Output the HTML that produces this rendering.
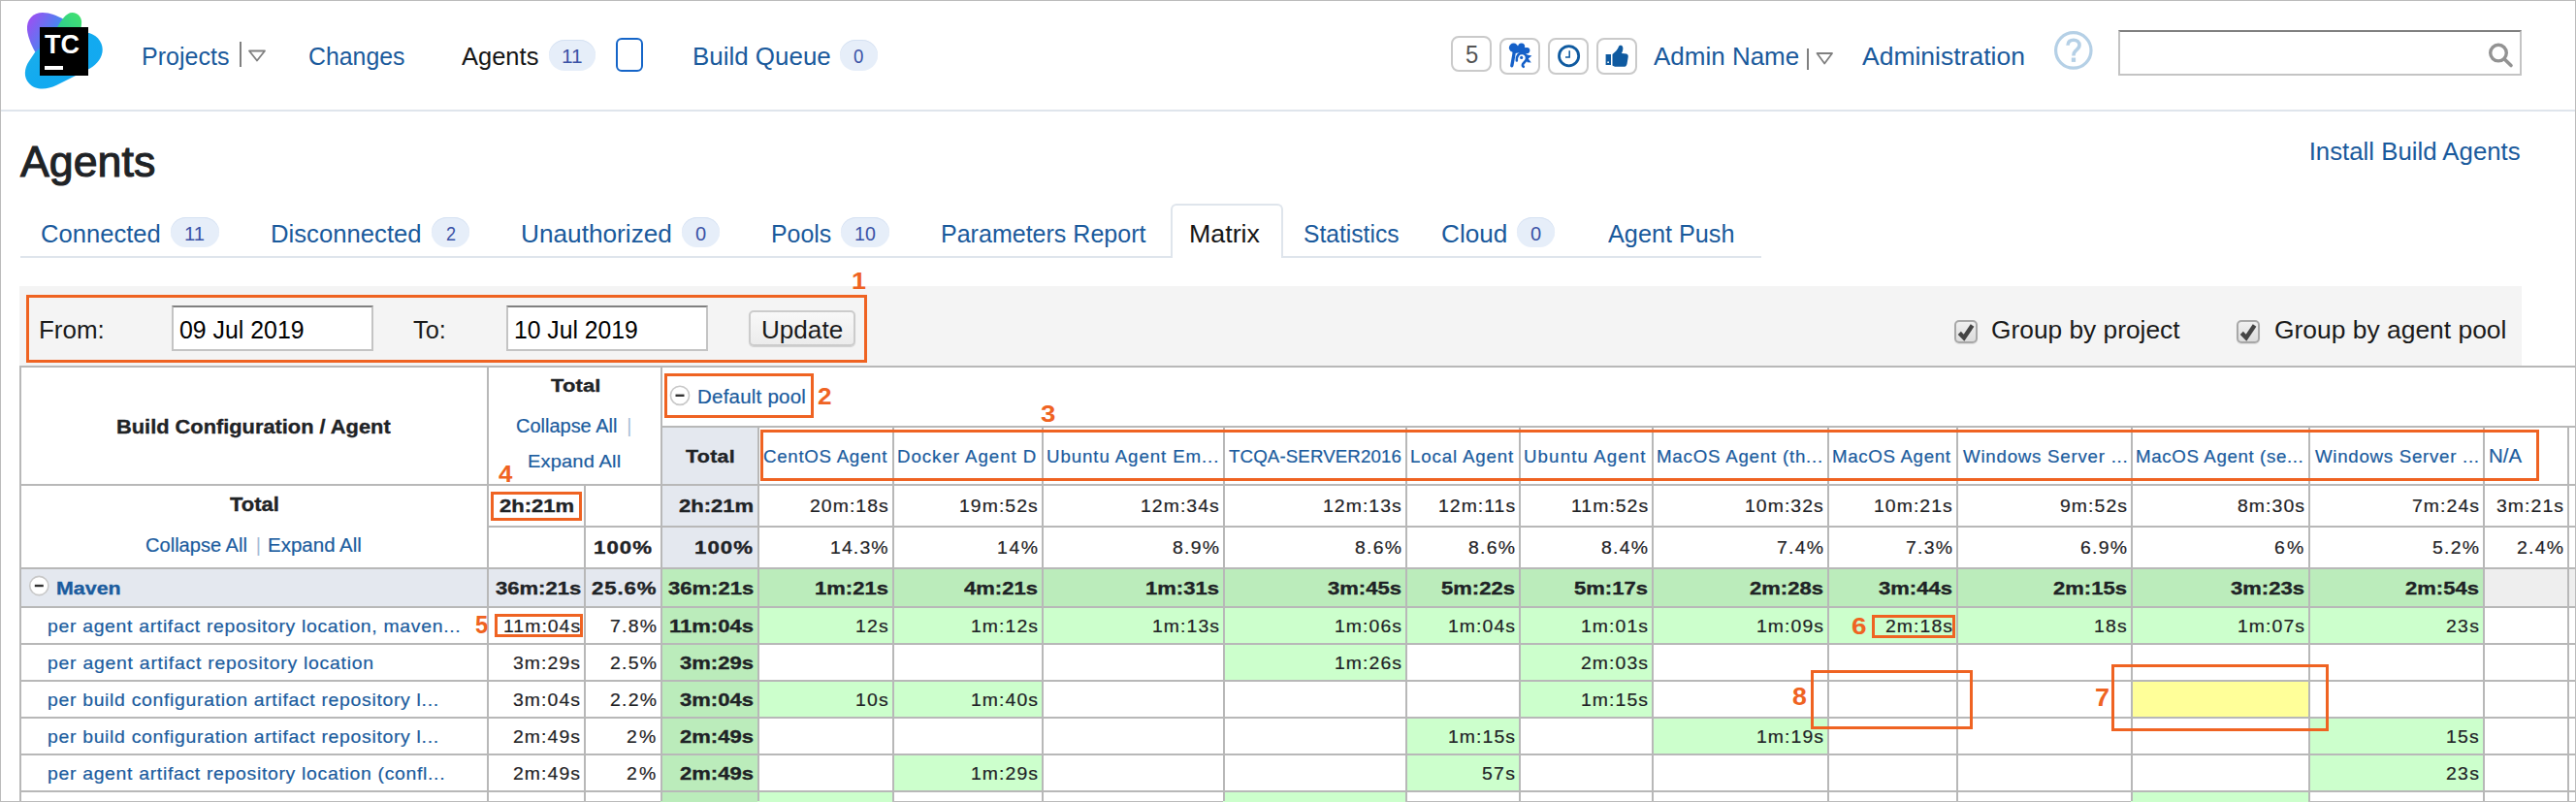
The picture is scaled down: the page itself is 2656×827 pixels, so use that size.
<!DOCTYPE html>
<html><head><meta charset="utf-8"><title>Agents</title>
<style>
html,body{margin:0;padding:0;background:#fff;}
body{width:2656px;height:827px;overflow:hidden;position:relative;font-family:"Liberation Sans",sans-serif;}
.b{position:absolute;}
.t{position:absolute;white-space:nowrap;transform-origin:0 0;font-family:"Liberation Sans",sans-serif;}
</style></head><body>
<div class=b style="left:0px;top:0px;width:2656px;height:1px;background:#bbbbbb"></div><div class=b style="left:0px;top:0px;width:1px;height:827px;background:#bbbbbb"></div><div class=b style="left:2655px;top:0px;width:1px;height:827px;background:#bbbbbb"></div><div class=b style="left:0px;top:826px;width:2656px;height:1px;background:#bbbbbb"></div><div class=b style="left:1px;top:113px;width:2654px;height:2px;background:#dfe5ec"></div><div class=b style="left:566px;top:41px;width:48px;height:32px;background:#e6eef9;border-radius:16px;box-shadow:inset 0 1px 0 #d5e1f2"></div><div class=b style="left:866px;top:41px;width:39px;height:32px;background:#e6eef9;border-radius:16px;box-shadow:inset 0 1px 0 #d5e1f2"></div><div class=b style="left:176px;top:224px;width:50px;height:31px;background:#e6eef9;border-radius:16px;box-shadow:inset 0 1px 0 #d5e1f2"></div><div class=b style="left:445px;top:224px;width:39px;height:31px;background:#e6eef9;border-radius:16px;box-shadow:inset 0 1px 0 #d5e1f2"></div><div class=b style="left:703px;top:224px;width:39px;height:31px;background:#e6eef9;border-radius:16px;box-shadow:inset 0 1px 0 #d5e1f2"></div><div class=b style="left:867px;top:224px;width:50px;height:31px;background:#e6eef9;border-radius:16px;box-shadow:inset 0 1px 0 #d5e1f2"></div><div class=b style="left:1564px;top:224px;width:39px;height:31px;background:#e6eef9;border-radius:16px;box-shadow:inset 0 1px 0 #d5e1f2"></div><div class=b style="left:635px;top:39px;width:28px;height:35px;border:2px solid #1565c8;border-radius:6px;box-sizing:border-box"></div><div class=b style="left:1496px;top:37px;width:42px;height:37px;border:2px solid #cacaca;border-radius:8px;box-sizing:border-box"></div><div class=b style="left:1546px;top:39px;width:42px;height:38px;border:2px solid #cacaca;border-radius:8px;box-sizing:border-box"></div><div class=b style="left:1596px;top:39px;width:42px;height:38px;border:2px solid #cacaca;border-radius:8px;box-sizing:border-box"></div><div class=b style="left:1646px;top:39px;width:42px;height:38px;border:2px solid #cacaca;border-radius:8px;box-sizing:border-box"></div><div class=b style="left:2184px;top:31px;width:416px;height:47px;background:#fff;border:2px solid #c4c4c4;border-top-color:#808080;box-sizing:border-box"></div><div class=b style="left:21px;top:264px;width:1187px;height:2px;background:#dfe5ec"></div><div class=b style="left:1322px;top:264px;width:494px;height:2px;background:#dfe5ec"></div><div class=b style="left:1207px;top:210px;width:116px;height:56px;border:2px solid #dfe5ec;border-bottom:none;border-radius:6px 6px 0 0;box-sizing:border-box;background:#fff"></div><div class=b style="left:20px;top:295px;width:2580px;height:82px;background:#f4f4f4"></div><div class=b style="left:177px;top:315px;width:208px;height:47px;background:#fff;border:2px solid #c4c4c4;border-top-color:#808080;box-sizing:border-box"></div><div class=b style="left:522px;top:315px;width:208px;height:47px;background:#fff;border:2px solid #c4c4c4;border-top-color:#808080;box-sizing:border-box"></div><div class=b style="left:772px;top:320px;width:110px;height:37px;background:linear-gradient(#f8f8f8,#ececec);border:2px solid #cccccc;border-radius:5px;box-sizing:border-box;box-shadow:0 1px 1px rgba(0,0,0,0.15)"></div><div class=b style="left:2015px;top:330px;width:24px;height:24px;background:linear-gradient(#f0f0f0,#dcdcdc);border:2px solid #a8a8a8;border-radius:5px;box-sizing:border-box;box-shadow:0 1px 1px rgba(0,0,0,0.1)"></div><div class=b style="left:2306px;top:330px;width:24px;height:24px;background:linear-gradient(#f0f0f0,#dcdcdc);border:2px solid #a8a8a8;border-radius:5px;box-sizing:border-box;box-shadow:0 1px 1px rgba(0,0,0,0.1)"></div><div class=b style="left:681px;top:439px;width:100px;height:146px;background:#e4e8ef"></div><div class=b style="left:20px;top:585px;width:661px;height:40px;background:#e4e8ef"></div><div class=b style="left:681px;top:585px;width:1879px;height:40px;background:#bbecbb"></div><div class=b style="left:2560px;top:585px;width:95px;height:40px;background:#eeeeee"></div><div class=b style="left:681px;top:625px;width:100px;height:202px;background:#bbecbb"></div><div class=b style="left:781px;top:625px;width:139px;height:38px;background:#ccffcc"></div><div class=b style="left:920px;top:625px;width:154px;height:38px;background:#ccffcc"></div><div class=b style="left:1074px;top:625px;width:187px;height:38px;background:#ccffcc"></div><div class=b style="left:1261px;top:625px;width:188px;height:38px;background:#ccffcc"></div><div class=b style="left:1449px;top:625px;width:117px;height:38px;background:#ccffcc"></div><div class=b style="left:1566px;top:625px;width:137px;height:38px;background:#ccffcc"></div><div class=b style="left:1703px;top:625px;width:181px;height:38px;background:#ccffcc"></div><div class=b style="left:1884px;top:625px;width:133px;height:38px;background:#ccffcc"></div><div class=b style="left:2017px;top:625px;width:180px;height:38px;background:#ccffcc"></div><div class=b style="left:2197px;top:625px;width:183px;height:38px;background:#ccffcc"></div><div class=b style="left:2380px;top:625px;width:180px;height:38px;background:#ccffcc"></div><div class=b style="left:1261px;top:663px;width:188px;height:38px;background:#ccffcc"></div><div class=b style="left:1566px;top:663px;width:137px;height:38px;background:#ccffcc"></div><div class=b style="left:781px;top:701px;width:139px;height:38px;background:#ccffcc"></div><div class=b style="left:920px;top:701px;width:154px;height:38px;background:#ccffcc"></div><div class=b style="left:1566px;top:701px;width:137px;height:38px;background:#ccffcc"></div><div class=b style="left:1449px;top:739px;width:117px;height:38px;background:#ccffcc"></div><div class=b style="left:1703px;top:739px;width:181px;height:38px;background:#ccffcc"></div><div class=b style="left:2380px;top:739px;width:180px;height:38px;background:#ccffcc"></div><div class=b style="left:920px;top:777px;width:154px;height:38px;background:#ccffcc"></div><div class=b style="left:1449px;top:777px;width:117px;height:38px;background:#ccffcc"></div><div class=b style="left:2380px;top:777px;width:180px;height:38px;background:#ccffcc"></div><div class=b style="left:2197px;top:701px;width:183px;height:38px;background:#ffff99"></div><div class=b style="left:781px;top:815px;width:139px;height:12px;background:#ccffcc"></div><div class=b style="left:1261px;top:815px;width:188px;height:12px;background:#ccffcc"></div><div class=b style="left:2197px;top:815px;width:183px;height:12px;background:#ccffcc"></div><div class=b style="left:20px;top:377px;width:2635px;height:2px;background:#b8b8b8"></div><div class=b style="left:681px;top:439px;width:1974px;height:2px;background:#b8b8b8"></div><div class=b style="left:20px;top:499px;width:2635px;height:2px;background:#b8b8b8"></div><div class=b style="left:502px;top:542px;width:2153px;height:2px;background:#b8b8b8"></div><div class=b style="left:20px;top:585px;width:2635px;height:2px;background:#b8b8b8"></div><div class=b style="left:20px;top:625px;width:2635px;height:2px;background:#b8b8b8"></div><div class=b style="left:20px;top:663px;width:2635px;height:2px;background:#b8b8b8"></div><div class=b style="left:20px;top:701px;width:2635px;height:2px;background:#b8b8b8"></div><div class=b style="left:20px;top:739px;width:2635px;height:2px;background:#b8b8b8"></div><div class=b style="left:20px;top:777px;width:2635px;height:2px;background:#b8b8b8"></div><div class=b style="left:20px;top:815px;width:2635px;height:2px;background:#b8b8b8"></div><div class=b style="left:20px;top:377px;width:2px;height:449px;background:#b8b8b8"></div><div class=b style="left:502px;top:377px;width:2px;height:449px;background:#b8b8b8"></div><div class=b style="left:602px;top:499px;width:2px;height:327px;background:#b8b8b8"></div><div class=b style="left:681px;top:377px;width:2px;height:449px;background:#b8b8b8"></div><div class=b style="left:781px;top:439px;width:2px;height:387px;background:#b8b8b8"></div><div class=b style="left:920px;top:439px;width:2px;height:387px;background:#b8b8b8"></div><div class=b style="left:1074px;top:439px;width:2px;height:387px;background:#b8b8b8"></div><div class=b style="left:1261px;top:439px;width:2px;height:387px;background:#b8b8b8"></div><div class=b style="left:1449px;top:439px;width:2px;height:387px;background:#b8b8b8"></div><div class=b style="left:1566px;top:439px;width:2px;height:387px;background:#b8b8b8"></div><div class=b style="left:1703px;top:439px;width:2px;height:387px;background:#b8b8b8"></div><div class=b style="left:1884px;top:439px;width:2px;height:387px;background:#b8b8b8"></div><div class=b style="left:2017px;top:439px;width:2px;height:387px;background:#b8b8b8"></div><div class=b style="left:2197px;top:439px;width:2px;height:387px;background:#b8b8b8"></div><div class=b style="left:2380px;top:439px;width:2px;height:387px;background:#b8b8b8"></div><div class=b style="left:2560px;top:439px;width:2px;height:387px;background:#b8b8b8"></div><div class=b style="left:2647px;top:439px;width:2px;height:387px;background:#b8b8b8"></div><div class=b style="left:27px;top:304px;width:867px;height:70px;border:3px solid #ef6322;box-sizing:border-box"></div><div class=b style="left:685px;top:385px;width:154px;height:46px;border:3px solid #ef6322;box-sizing:border-box"></div><div class=b style="left:784px;top:443px;width:1834px;height:53px;border:3px solid #ef6322;box-sizing:border-box"></div><div class=b style="left:506px;top:507px;width:94px;height:30px;border:3px solid #ef6322;box-sizing:border-box"></div><div class=b style="left:510px;top:633px;width:91px;height:24px;border:3px solid #ef6322;box-sizing:border-box"></div><div class=b style="left:1930px;top:634px;width:86px;height:24px;border:3px solid #ef6322;box-sizing:border-box"></div><div class=b style="left:2177px;top:685px;width:224px;height:69px;border:3px solid #ef6322;box-sizing:border-box"></div><div class=b style="left:1867px;top:691px;width:167px;height:61px;border:3px solid #ef6322;box-sizing:border-box"></div>

<svg class=b style="left:0;top:0" width="2656" height="827" viewBox="0 0 2656 827">
 <defs>
  <linearGradient id="g1" x1="0" y1="0.2" x2="1" y2="0.8"><stop offset="0" stop-color="#9d4ff2"/><stop offset="0.7" stop-color="#3b8ef0"/></linearGradient>
  <linearGradient id="g3" x1="0" y1="0" x2="1" y2="1"><stop offset="0" stop-color="#1fb0e8"/><stop offset="0.5" stop-color="#12aaf0"/><stop offset="1" stop-color="#14a8f0"/></linearGradient>
  <linearGradient id="g2" x1="1" y1="0" x2="0" y2="1"><stop offset="0" stop-color="#45e36c"/><stop offset="1" stop-color="#22c3a0"/></linearGradient>
 </defs>
 <!-- logo blobs -->
 <path d="M28 31 C 27 20, 34 13, 44 13 C 52 13, 58 16, 66 20 L 70 36 L 37 55 C 33 48, 29 39, 28 31 Z" fill="url(#g1)"/>
 <path d="M 36 54 L 62 34 L 92 34 C 102 37, 107 46, 105.5 54 C 104 62, 98 68, 90 72 L 58 88 C 48 93, 36 93, 30 86 C 24 80, 25 70, 30 63 Z" fill="url(#g3)"/>
 <path d="M58 30 C 63 21, 68 13, 74.5 13 C 80.5 13, 85 18, 84 25 L 82 40 L 56 46 Z" fill="url(#g2)"/>
 <rect x="41" y="28" width="50" height="50" fill="#000"/>
 <text x="46" y="55" font-family="Liberation Sans" font-weight="bold" font-size="28" fill="#fff" textLength="36" lengthAdjust="spacingAndGlyphs">TC</text>
 <rect x="46" y="68" width="19" height="4" fill="#fff"/>
 <!-- projects separator and triangle -->
 <rect x="247" y="43" width="2" height="26" fill="#808080"/>
 <path d="M257 52.5 L273 52.5 L265 62.5 Z" fill="none" stroke="#808080" stroke-width="1.8" stroke-linejoin="round"/>
 <rect x="1863" y="50" width="2" height="22" fill="#808080"/>
 <path d="M1873.5 55 L1889 55 L1881.2 65.5 Z" fill="none" stroke="#808080" stroke-width="1.8" stroke-linejoin="round"/>
 <!-- rooster -->
 <g fill="#1560c8">
  <circle cx="1560.6" cy="49.3" r="4.7"/><circle cx="1568.7" cy="48.1" r="3.5"/><circle cx="1574.3" cy="52.1" r="3.1"/>
  <path d="M1557 51 L1566 47 L1575 50 L1576 54.5 L1571 55.5 L1566 54.5 L1562 55 Z"/>
  <path d="M1573.6 56.2 L1579.4 57.6 L1575.8 60.6 L1578.8 64.6 L1574.6 64.2 L1573 60 Z"/>
  <circle cx="1568.7" cy="59.4" r="1.6"/>
 </g>
 <path d="M1561.3 53 C 1560.8 58, 1559.6 63, 1558.8 67.8" stroke="#1560c8" stroke-width="3.3" fill="none" stroke-linecap="round"/>
 <path d="M1563.8 62.5 C 1563.4 57.5, 1566 55, 1569.2 55 C 1572.6 55, 1574.4 57.6, 1574 60.4 C 1573.6 63.2, 1571.2 64.2, 1570.2 66 C 1569.6 67.2, 1570 68.2, 1570.8 68.8" stroke="#1560c8" stroke-width="2.6" fill="none" stroke-linecap="round"/>
 <!-- clock -->
 <circle cx="1617.6" cy="57.7" r="10.1" fill="none" stroke="#0f5aa0" stroke-width="2.8"/>
 <path d="M1618.2 52.3 L1618.2 59 L1614 59" fill="none" stroke="#0f5aa0" stroke-width="1.5"/>
 <!-- thumbs up -->
 <g fill="#0f5aa0">
  <rect x="1655.6" y="56" width="5.4" height="11"/>
  <path d="M1662.5 56 C 1665 54, 1668 51, 1669 48 C 1669.5 46.5, 1672 46, 1673 48 C 1674 50, 1673 53, 1672 55 L 1677 55.5 C 1679 56, 1679 58, 1678.5 60 L 1677.5 66 C 1677 68, 1676 68.8, 1674 68.8 L 1666 68.8 C 1664.5 68.8, 1663.5 68, 1662.5 67.5 Z"/>
 </g>
 <circle cx="1658.1" cy="64.2" r="0.9" fill="#fff"/>
 <!-- help -->
 <circle cx="2137.8" cy="51.9" r="18.2" fill="none" stroke="#b5d0e6" stroke-width="3.2"/>
 <path d="M2132 46.8 C 2132 42.8, 2134.8 41.2, 2137.9 41.2 C 2141.3 41.2, 2144 43.4, 2144 46.6 C 2144 49.8, 2141.4 51.2, 2139.8 52.6 C 2138.4 53.9, 2137.9 55, 2137.9 57.6" fill="none" stroke="#b5d0e6" stroke-width="3.6"/>
 <rect x="2135.8" y="59.5" width="4.3" height="4.4" fill="#b5d0e6"/>
 <!-- search -->
 <circle cx="2576" cy="54.6" r="8.3" fill="none" stroke="#939393" stroke-width="3.4"/>
 <path d="M2582.5 61.3 L2589 67.5" stroke="#939393" stroke-width="3.6" stroke-linecap="round"/>
 <!-- checkmarks -->
 <path d="M2020.3 343.4 L2025 348.2 L2033.6 335.6" fill="none" stroke="#444" stroke-width="4.4"/>
 <path d="M2311.3 343.4 L2316 348.2 L2324.6 335.6" fill="none" stroke="#444" stroke-width="4.4"/>
 <!-- minus circles -->
 <circle cx="701" cy="407.8" r="9.6" fill="#fff" stroke="#c8c8c8" stroke-width="1.6"/>
 <rect x="696.5" y="406.6" width="9" height="2.4" fill="#333"/>
 <circle cx="40.3" cy="604" r="9.6" fill="#fff" stroke="#c8c8c8" stroke-width="1.6"/>
 <rect x="35.8" y="602.8" width="9" height="2.4" fill="#333"/>
</svg>

<span class=t style="left:145.94px;top:46px;font-size:25.94px;line-height:25.94px;color:#1a5a9c;transform:scaleX(0.9651);">Projects</span><span class=t style="left:317.84px;top:46px;font-size:25.94px;line-height:25.94px;color:#1a5a9c;transform:scaleX(0.9576);">Changes</span><span class=t style="left:476.00px;top:46px;font-size:25.94px;line-height:25.94px;color:#161616;transform:scaleX(0.9831);">Agents</span><span class=t style="left:579.42px;top:49px;font-size:19.71px;line-height:19.71px;color:#3a52a6;transform:scaleX(1.0556);">11</span><span class=t style="left:713.98px;top:46px;font-size:25.94px;line-height:25.94px;color:#1a5a9c;">Build Queue</span><span class=t style="left:879.84px;top:49px;font-size:19.71px;line-height:19.71px;color:#3a52a6;transform:scaleX(0.9474);">0</span><span class=t style="left:1510.87px;top:44px;font-size:25.51px;line-height:25.51px;color:#555555;transform:scaleX(0.9344);">5</span><span class=t style="left:1705.00px;top:45px;font-size:26.09px;line-height:26.09px;color:#1a5a9c;transform:scaleX(0.9966);">Admin Name</span><span class=t style="left:1920.00px;top:45px;font-size:26.38px;line-height:26.38px;color:#1a5a9c;transform:scaleX(1.0046);">Administration</span><span class=t style="left:20.70px;top:145px;font-size:44.35px;line-height:44.35px;color:#1f2326;-webkit-text-stroke:1.1px #1f2326;transform:scaleX(1.0089);">Agents</span><span class=t style="left:2380.69px;top:144px;font-size:25.80px;line-height:25.80px;color:#1a5a9c;">Install Build Agents</span><span class=t style="left:42.10px;top:228px;font-size:26.38px;line-height:26.38px;color:#1a5a9c;transform:scaleX(0.9699);">Connected</span><span class=t style="left:189.90px;top:231px;font-size:20.29px;line-height:20.29px;color:#3a52a6;">11</span><span class=t style="left:279.39px;top:228px;font-size:26.38px;line-height:26.38px;color:#1a5a9c;transform:scaleX(0.9739);">Disconnected</span><span class=t style="left:459.81px;top:231px;font-size:20.29px;line-height:20.29px;color:#3a52a6;transform:scaleX(0.8925);">2</span><span class=t style="left:537.46px;top:228px;font-size:26.38px;line-height:26.38px;color:#1a5a9c;transform:scaleX(0.9937);">Unauthorized</span><span class=t style="left:717.31px;top:231px;font-size:20.29px;line-height:20.29px;color:#3a52a6;transform:scaleX(0.9898);">0</span><span class=t style="left:795.25px;top:228px;font-size:26.38px;line-height:26.38px;color:#1a5a9c;transform:scaleX(0.9446);">Pools</span><span class=t style="left:881.45px;top:231px;font-size:20.29px;line-height:20.29px;color:#3a52a6;transform:scaleX(0.9663);">10</span><span class=t style="left:970.44px;top:228px;font-size:26.38px;line-height:26.38px;color:#1a5a9c;transform:scaleX(0.9491);">Parameters Report</span><span class=t style="left:1225.51px;top:228px;font-size:26.38px;line-height:26.38px;color:#161616;transform:scaleX(1.0152);">Matrix</span><span class=t style="left:1343.83px;top:228px;font-size:26.38px;line-height:26.38px;color:#1a5a9c;transform:scaleX(0.9338);">Statistics</span><span class=t style="left:1485.97px;top:228px;font-size:26.38px;line-height:26.38px;color:#1a5a9c;transform:scaleX(0.9910);">Cloud</span><span class=t style="left:1578.11px;top:231px;font-size:20.29px;line-height:20.29px;color:#3a52a6;transform:scaleX(0.9898);">0</span><span class=t style="left:1658.00px;top:228px;font-size:26.38px;line-height:26.38px;color:#1a5a9c;transform:scaleX(0.9571);">Agent Push</span><span class=t style="left:39.97px;top:328px;font-size:25.65px;line-height:25.65px;color:#1a1a1a;transform:scaleX(1.0119);">From:</span><span class=t style="left:184.92px;top:328px;font-size:25.65px;line-height:25.65px;color:#000000;transform:scaleX(0.9694);">09 Jul 2019</span><span class=t style="left:425.80px;top:328px;font-size:25.65px;line-height:25.65px;color:#1a1a1a;transform:scaleX(0.9873);">To:</span><span class=t style="left:530.46px;top:328px;font-size:25.65px;line-height:25.65px;color:#000000;transform:scaleX(0.9631);">10 Jul 2019</span><span class=t style="left:784.67px;top:328px;font-size:25.65px;line-height:25.65px;color:#1a1a1a;transform:scaleX(1.0178);">Update</span><span class=t style="left:2053.35px;top:328px;font-size:25.36px;line-height:25.36px;color:#1a1a1a;transform:scaleX(1.0379);">Group by project</span><span class=t style="left:2345.05px;top:328px;font-size:25.36px;line-height:25.36px;color:#1a1a1a;transform:scaleX(1.0419);">Group by agent pool</span><span class=t style="left:877.77px;top:278px;font-size:24.78px;line-height:24.78px;color:#ef6322;font-weight:bold;transform:scaleX(1.0862);">1</span><span class=t style="left:843.21px;top:398px;font-size:23.48px;line-height:23.48px;color:#ef6322;font-weight:bold;transform:scaleX(1.1140);">2</span><span class=t style="left:1073.12px;top:416px;font-size:23.62px;line-height:23.62px;color:#ef6322;font-weight:bold;transform:scaleX(1.1695);">3</span><span class=t style="left:513.67px;top:478px;font-size:23.62px;line-height:23.62px;color:#ef6322;font-weight:bold;transform:scaleX(1.0938);">4</span><span class=t style="left:489.73px;top:632px;font-size:25.80px;line-height:25.80px;color:#ef6322;font-weight:bold;transform:scaleX(0.9172);">5</span><span class=t style="left:1908.57px;top:634px;font-size:24.06px;line-height:24.06px;color:#ef6322;font-weight:bold;transform:scaleX(1.1610);">6</span><span class=t style="left:2159.85px;top:706px;font-size:26.52px;line-height:26.52px;color:#ef6322;font-weight:bold;transform:scaleX(1.0198);">7</span><span class=t style="left:1847.97px;top:705px;font-size:26.38px;line-height:26.38px;color:#ef6322;font-weight:bold;transform:scaleX(1.0085);">8</span><span class=t style="left:119.60px;top:430px;font-size:20.29px;line-height:20.29px;color:#1f2326;font-weight:bold;-webkit-text-stroke:0.35px #1f2326;transform:scaleX(1.0753);">Build Configuration / Agent</span><span class=t style="left:567.76px;top:389px;font-size:18.26px;line-height:18.26px;color:#1f2326;font-weight:bold;-webkit-text-stroke:0.35px #1f2326;transform:scaleX(1.2000);letter-spacing:0.136px;">Total</span><span class=t style="left:532.48px;top:430px;font-size:19.57px;line-height:19.57px;color:#1b5c9e;-webkit-text-stroke:0.2px #1b5c9e;transform:scaleX(1.0212);">Collapse All</span><span class=t style="left:646.30px;top:430px;font-size:19.57px;line-height:19.57px;color:#a8bdd6;">|</span><span class=t style="left:543.92px;top:466px;font-size:19.13px;line-height:19.13px;color:#1b5c9e;-webkit-text-stroke:0.2px #1b5c9e;transform:scaleX(1.0500);letter-spacing:0.144px;">Expand All</span><span class=t style="left:237.28px;top:510px;font-size:20.29px;line-height:20.29px;color:#1f2326;font-weight:bold;-webkit-text-stroke:0.35px #1f2326;transform:scaleX(1.0835);">Total</span><span class=t style="left:150.31px;top:552px;font-size:20.29px;line-height:20.29px;color:#1b5c9e;-webkit-text-stroke:0.2px #1b5c9e;transform:scaleX(0.9903);">Collapse All</span><span class=t style="left:263.85px;top:552px;font-size:20.29px;line-height:20.29px;color:#a8bdd6;">|</span><span class=t style="left:275.98px;top:552px;font-size:20.29px;line-height:20.29px;color:#1b5c9e;-webkit-text-stroke:0.2px #1b5c9e;transform:scaleX(1.0108);">Expand All</span><span class=t style="left:718.72px;top:400px;font-size:19.57px;line-height:19.57px;color:#1b5c9e;-webkit-text-stroke:0.2px #1b5c9e;transform:scaleX(1.0500);letter-spacing:0.195px;">Default pool</span><span class=t style="left:707.06px;top:463px;font-size:17.83px;line-height:17.83px;color:#1f2326;font-weight:bold;-webkit-text-stroke:0.35px #1f2326;transform:scaleX(1.2000);letter-spacing:0.258px;">Total</span><span class=t style="left:787.05px;top:463px;font-size:17.83px;line-height:17.83px;color:#1b5c9e;-webkit-text-stroke:0.2px #1b5c9e;transform:scaleX(1.0500);letter-spacing:0.668px;">CentOS Agent</span><span class=t style="left:925.13px;top:463px;font-size:17.83px;line-height:17.83px;color:#1b5c9e;-webkit-text-stroke:0.2px #1b5c9e;transform:scaleX(1.0500);letter-spacing:0.892px;">Docker Agent D</span><span class=t style="left:1078.84px;top:463px;font-size:17.83px;line-height:17.83px;color:#1b5c9e;-webkit-text-stroke:0.2px #1b5c9e;transform:scaleX(1.0500);letter-spacing:0.844px;">Ubuntu Agent Em...</span><span class=t style="left:1266.98px;top:463px;font-size:17.83px;line-height:17.83px;color:#1b5c9e;-webkit-text-stroke:0.2px #1b5c9e;transform:scaleX(1.0500);letter-spacing:0.094px;">TCQA-SERVER2016</span><span class=t style="left:1453.83px;top:463px;font-size:17.83px;line-height:17.83px;color:#1b5c9e;-webkit-text-stroke:0.2px #1b5c9e;transform:scaleX(1.0500);letter-spacing:0.788px;">Local Agent</span><span class=t style="left:1571.13px;top:463px;font-size:17.83px;line-height:17.83px;color:#1b5c9e;-webkit-text-stroke:0.2px #1b5c9e;transform:scaleX(1.0500);letter-spacing:1.044px;">Ubuntu Agent</span><span class=t style="left:1708.43px;top:463px;font-size:17.83px;line-height:17.83px;color:#1b5c9e;-webkit-text-stroke:0.2px #1b5c9e;transform:scaleX(1.0500);letter-spacing:0.731px;">MacOS Agent (th...</span><span class=t style="left:1889.03px;top:463px;font-size:17.83px;line-height:17.83px;color:#1b5c9e;-webkit-text-stroke:0.2px #1b5c9e;transform:scaleX(1.0500);letter-spacing:0.620px;">MacOS Agent</span><span class=t style="left:2023.60px;top:463px;font-size:17.83px;line-height:17.83px;color:#1b5c9e;-webkit-text-stroke:0.2px #1b5c9e;transform:scaleX(1.0500);letter-spacing:0.710px;">Windows Server ...</span><span class=t style="left:2202.13px;top:463px;font-size:17.83px;line-height:17.83px;color:#1b5c9e;-webkit-text-stroke:0.2px #1b5c9e;transform:scaleX(1.0500);letter-spacing:0.588px;">MacOS Agent (se...</span><span class=t style="left:2387.00px;top:463px;font-size:17.83px;line-height:17.83px;color:#1b5c9e;-webkit-text-stroke:0.2px #1b5c9e;transform:scaleX(1.0500);letter-spacing:0.671px;">Windows Server ...</span><span class=t style="left:2565.62px;top:461px;font-size:19.42px;line-height:19.42px;color:#1b5c9e;-webkit-text-stroke:0.2px #1b5c9e;transform:scaleX(1.0500);letter-spacing:0.112px;">N/A</span><span class=t style="left:58.33px;top:598px;font-size:18.70px;line-height:18.70px;color:#1b5c9e;font-weight:bold;-webkit-text-stroke:0.35px #1b5c9e;transform:scaleX(1.1457);">Maven</span><span class=t style="left:515.36px;top:513px;font-size:18.50px;line-height:18.50px;color:#1f2326;font-weight:bold;-webkit-text-stroke:0.35px #1f2326;transform:scaleX(1.1900);">2h:21m</span><span class=t style="left:699.56px;top:513px;font-size:18.50px;line-height:18.50px;color:#1f2326;font-weight:bold;-webkit-text-stroke:0.35px #1f2326;transform:scaleX(1.1900);">2h:21m</span><span class=t style="left:834.93px;top:513px;font-size:18.50px;line-height:18.50px;color:#1f2326;-webkit-text-stroke:0.2px #1f2326;transform:scaleX(1.0500);letter-spacing:0.992px;">20m:18s</span><span class=t style="left:988.98px;top:513px;font-size:18.50px;line-height:18.50px;color:#1f2326;-webkit-text-stroke:0.2px #1f2326;transform:scaleX(1.0500);letter-spacing:0.984px;">19m:52s</span><span class=t style="left:1175.98px;top:513px;font-size:18.50px;line-height:18.50px;color:#1f2326;-webkit-text-stroke:0.2px #1f2326;transform:scaleX(1.0500);letter-spacing:0.984px;">12m:34s</span><span class=t style="left:1363.98px;top:513px;font-size:18.50px;line-height:18.50px;color:#1f2326;-webkit-text-stroke:0.2px #1f2326;transform:scaleX(1.0500);letter-spacing:0.984px;">12m:13s</span><span class=t style="left:1482.54px;top:513px;font-size:18.50px;line-height:18.50px;color:#1f2326;-webkit-text-stroke:0.2px #1f2326;transform:scaleX(1.0500);letter-spacing:0.965px;">12m:11s</span><span class=t style="left:1619.54px;top:513px;font-size:18.50px;line-height:18.50px;color:#1f2326;-webkit-text-stroke:0.2px #1f2326;transform:scaleX(1.0500);letter-spacing:0.965px;">11m:52s</span><span class=t style="left:1798.98px;top:513px;font-size:18.50px;line-height:18.50px;color:#1f2326;-webkit-text-stroke:0.2px #1f2326;transform:scaleX(1.0500);letter-spacing:0.984px;">10m:32s</span><span class=t style="left:1931.98px;top:513px;font-size:18.50px;line-height:18.50px;color:#1f2326;-webkit-text-stroke:0.2px #1f2326;transform:scaleX(1.0500);letter-spacing:0.984px;">10m:21s</span><span class=t style="left:2123.65px;top:513px;font-size:18.50px;line-height:18.50px;color:#1f2326;-webkit-text-stroke:0.2px #1f2326;transform:scaleX(1.0500);letter-spacing:1.015px;">9m:52s</span><span class=t style="left:2306.65px;top:513px;font-size:18.50px;line-height:18.50px;color:#1f2326;-webkit-text-stroke:0.2px #1f2326;transform:scaleX(1.0500);letter-spacing:1.015px;">8m:30s</span><span class=t style="left:2486.66px;top:513px;font-size:18.50px;line-height:18.50px;color:#1f2326;-webkit-text-stroke:0.2px #1f2326;transform:scaleX(1.0500);letter-spacing:1.013px;">7m:24s</span><span class=t style="left:2573.64px;top:513px;font-size:18.50px;line-height:18.50px;color:#1f2326;-webkit-text-stroke:0.2px #1f2326;transform:scaleX(1.0500);letter-spacing:1.017px;">3m:21s</span><span class=t style="left:612.26px;top:556px;font-size:18.50px;line-height:18.50px;color:#1f2326;font-weight:bold;-webkit-text-stroke:0.35px #1f2326;transform:scaleX(1.2000);letter-spacing:0.890px;">100%</span><span class=t style="left:715.96px;top:556px;font-size:18.50px;line-height:18.50px;color:#1f2326;font-weight:bold;-webkit-text-stroke:0.35px #1f2326;transform:scaleX(1.2000);letter-spacing:0.890px;">100%</span><span class=t style="left:856.07px;top:556px;font-size:18.50px;line-height:18.50px;color:#1f2326;-webkit-text-stroke:0.2px #1f2326;transform:scaleX(1.0500);letter-spacing:1.080px;">14.3%</span><span class=t style="left:1027.66px;top:556px;font-size:18.50px;line-height:18.50px;color:#1f2326;-webkit-text-stroke:0.2px #1f2326;transform:scaleX(1.0500);letter-spacing:1.499px;">14%</span><span class=t style="left:1208.74px;top:556px;font-size:18.50px;line-height:18.50px;color:#1f2326;-webkit-text-stroke:0.2px #1f2326;transform:scaleX(1.0500);letter-spacing:1.163px;">8.9%</span><span class=t style="left:1396.74px;top:556px;font-size:18.50px;line-height:18.50px;color:#1f2326;-webkit-text-stroke:0.2px #1f2326;transform:scaleX(1.0500);letter-spacing:1.163px;">8.6%</span><span class=t style="left:1513.74px;top:556px;font-size:18.50px;line-height:18.50px;color:#1f2326;-webkit-text-stroke:0.2px #1f2326;transform:scaleX(1.0500);letter-spacing:1.163px;">8.6%</span><span class=t style="left:1650.74px;top:556px;font-size:18.50px;line-height:18.50px;color:#1f2326;-webkit-text-stroke:0.2px #1f2326;transform:scaleX(1.0500);letter-spacing:1.163px;">8.4%</span><span class=t style="left:1831.75px;top:556px;font-size:18.50px;line-height:18.50px;color:#1f2326;-webkit-text-stroke:0.2px #1f2326;transform:scaleX(1.0500);letter-spacing:1.161px;">7.4%</span><span class=t style="left:1964.75px;top:556px;font-size:18.50px;line-height:18.50px;color:#1f2326;-webkit-text-stroke:0.2px #1f2326;transform:scaleX(1.0500);letter-spacing:1.161px;">7.3%</span><span class=t style="left:2144.75px;top:556px;font-size:18.50px;line-height:18.50px;color:#1f2326;-webkit-text-stroke:0.2px #1f2326;transform:scaleX(1.0500);letter-spacing:1.161px;">6.9%</span><span class=t style="left:2345.34px;top:556px;font-size:18.50px;line-height:18.50px;color:#1f2326;-webkit-text-stroke:0.2px #1f2326;transform:scaleX(1.0500);letter-spacing:2.159px;">6%</span><span class=t style="left:2507.73px;top:556px;font-size:18.50px;line-height:18.50px;color:#1f2326;-webkit-text-stroke:0.2px #1f2326;transform:scaleX(1.0500);letter-spacing:1.166px;">5.2%</span><span class=t style="left:2594.75px;top:556px;font-size:18.50px;line-height:18.50px;color:#1f2326;-webkit-text-stroke:0.2px #1f2326;transform:scaleX(1.0500);letter-spacing:1.161px;">2.4%</span><span class=t style="left:510.60px;top:598px;font-size:18.50px;line-height:18.50px;color:#1f2326;font-weight:bold;-webkit-text-stroke:0.35px #1f2326;transform:scaleX(1.1900);">36m:21s</span><span class=t style="left:609.59px;top:598px;font-size:18.50px;line-height:18.50px;color:#1f2326;font-weight:bold;-webkit-text-stroke:0.35px #1f2326;transform:scaleX(1.2000);letter-spacing:0.750px;">25.6%</span><span class=t style="left:688.90px;top:598px;font-size:18.50px;line-height:18.50px;color:#1f2326;font-weight:bold;-webkit-text-stroke:0.35px #1f2326;transform:scaleX(1.1900);">36m:21s</span><span class=t style="left:839.94px;top:598px;font-size:18.50px;line-height:18.50px;color:#1f2326;font-weight:bold;-webkit-text-stroke:0.35px #1f2326;transform:scaleX(1.1900);">1m:21s</span><span class=t style="left:993.94px;top:598px;font-size:18.50px;line-height:18.50px;color:#1f2326;font-weight:bold;-webkit-text-stroke:0.35px #1f2326;transform:scaleX(1.1900);">4m:21s</span><span class=t style="left:1180.94px;top:598px;font-size:18.50px;line-height:18.50px;color:#1f2326;font-weight:bold;-webkit-text-stroke:0.35px #1f2326;transform:scaleX(1.1900);">1m:31s</span><span class=t style="left:1368.94px;top:598px;font-size:18.50px;line-height:18.50px;color:#1f2326;font-weight:bold;-webkit-text-stroke:0.35px #1f2326;transform:scaleX(1.1900);">3m:45s</span><span class=t style="left:1485.94px;top:598px;font-size:18.50px;line-height:18.50px;color:#1f2326;font-weight:bold;-webkit-text-stroke:0.35px #1f2326;transform:scaleX(1.1900);">5m:22s</span><span class=t style="left:1622.94px;top:598px;font-size:18.50px;line-height:18.50px;color:#1f2326;font-weight:bold;-webkit-text-stroke:0.35px #1f2326;transform:scaleX(1.1900);">5m:17s</span><span class=t style="left:1803.94px;top:598px;font-size:18.50px;line-height:18.50px;color:#1f2326;font-weight:bold;-webkit-text-stroke:0.35px #1f2326;transform:scaleX(1.1900);">2m:28s</span><span class=t style="left:1936.94px;top:598px;font-size:18.50px;line-height:18.50px;color:#1f2326;font-weight:bold;-webkit-text-stroke:0.35px #1f2326;transform:scaleX(1.1900);">3m:44s</span><span class=t style="left:2116.94px;top:598px;font-size:18.50px;line-height:18.50px;color:#1f2326;font-weight:bold;-webkit-text-stroke:0.35px #1f2326;transform:scaleX(1.1900);">2m:15s</span><span class=t style="left:2299.94px;top:598px;font-size:18.50px;line-height:18.50px;color:#1f2326;font-weight:bold;-webkit-text-stroke:0.35px #1f2326;transform:scaleX(1.1900);">3m:23s</span><span class=t style="left:2479.94px;top:598px;font-size:18.50px;line-height:18.50px;color:#1f2326;font-weight:bold;-webkit-text-stroke:0.35px #1f2326;transform:scaleX(1.1900);">2m:54s</span><span class=t style="left:49.24px;top:637px;font-size:18.50px;line-height:18.50px;color:#1b5c9e;-webkit-text-stroke:0.2px #1b5c9e;transform:scaleX(1.0500);letter-spacing:0.640px;">per agent artifact repository location, maven...</span><span class=t style="left:518.84px;top:637px;font-size:18.50px;line-height:18.50px;color:#1f2326;-webkit-text-stroke:0.2px #1f2326;transform:scaleX(1.0500);letter-spacing:0.965px;">11m:04s</span><span class=t style="left:628.55px;top:637px;font-size:18.50px;line-height:18.50px;color:#1f2326;-webkit-text-stroke:0.2px #1f2326;transform:scaleX(1.0500);letter-spacing:1.161px;">7.8%</span><span class=t style="left:690.11px;top:637px;font-size:18.50px;line-height:18.50px;color:#1f2326;font-weight:bold;-webkit-text-stroke:0.35px #1f2326;transform:scaleX(1.1900);">11m:04s</span><span class=t style="left:881.86px;top:637px;font-size:18.50px;line-height:18.50px;color:#1f2326;-webkit-text-stroke:0.2px #1f2326;transform:scaleX(1.0500);letter-spacing:1.190px;">12s</span><span class=t style="left:1000.71px;top:637px;font-size:18.50px;line-height:18.50px;color:#1f2326;-webkit-text-stroke:0.2px #1f2326;transform:scaleX(1.0500);letter-spacing:1.005px;">1m:12s</span><span class=t style="left:1187.71px;top:637px;font-size:18.50px;line-height:18.50px;color:#1f2326;-webkit-text-stroke:0.2px #1f2326;transform:scaleX(1.0500);letter-spacing:1.005px;">1m:13s</span><span class=t style="left:1375.71px;top:637px;font-size:18.50px;line-height:18.50px;color:#1f2326;-webkit-text-stroke:0.2px #1f2326;transform:scaleX(1.0500);letter-spacing:1.005px;">1m:06s</span><span class=t style="left:1492.71px;top:637px;font-size:18.50px;line-height:18.50px;color:#1f2326;-webkit-text-stroke:0.2px #1f2326;transform:scaleX(1.0500);letter-spacing:1.005px;">1m:04s</span><span class=t style="left:1629.71px;top:637px;font-size:18.50px;line-height:18.50px;color:#1f2326;-webkit-text-stroke:0.2px #1f2326;transform:scaleX(1.0500);letter-spacing:1.005px;">1m:01s</span><span class=t style="left:1810.71px;top:637px;font-size:18.50px;line-height:18.50px;color:#1f2326;-webkit-text-stroke:0.2px #1f2326;transform:scaleX(1.0500);letter-spacing:1.005px;">1m:09s</span><span class=t style="left:1943.66px;top:637px;font-size:18.50px;line-height:18.50px;color:#1f2326;-webkit-text-stroke:0.2px #1f2326;transform:scaleX(1.0500);letter-spacing:1.013px;">2m:18s</span><span class=t style="left:2158.86px;top:637px;font-size:18.50px;line-height:18.50px;color:#1f2326;-webkit-text-stroke:0.2px #1f2326;transform:scaleX(1.0500);letter-spacing:1.190px;">18s</span><span class=t style="left:2306.71px;top:637px;font-size:18.50px;line-height:18.50px;color:#1f2326;-webkit-text-stroke:0.2px #1f2326;transform:scaleX(1.0500);letter-spacing:1.005px;">1m:07s</span><span class=t style="left:2521.82px;top:637px;font-size:18.50px;line-height:18.50px;color:#1f2326;-webkit-text-stroke:0.2px #1f2326;transform:scaleX(1.0500);letter-spacing:1.212px;">23s</span><span class=t style="left:49.24px;top:675px;font-size:18.50px;line-height:18.50px;color:#1b5c9e;-webkit-text-stroke:0.2px #1b5c9e;transform:scaleX(1.0500);letter-spacing:0.703px;">per agent artifact repository location</span><span class=t style="left:528.94px;top:675px;font-size:18.50px;line-height:18.50px;color:#1f2326;-webkit-text-stroke:0.2px #1f2326;transform:scaleX(1.0500);letter-spacing:1.017px;">3m:29s</span><span class=t style="left:628.55px;top:675px;font-size:18.50px;line-height:18.50px;color:#1f2326;-webkit-text-stroke:0.2px #1f2326;transform:scaleX(1.0500);letter-spacing:1.161px;">2.5%</span><span class=t style="left:701.14px;top:675px;font-size:18.50px;line-height:18.50px;color:#1f2326;font-weight:bold;-webkit-text-stroke:0.35px #1f2326;transform:scaleX(1.1900);">3m:29s</span><span class=t style="left:1375.71px;top:675px;font-size:18.50px;line-height:18.50px;color:#1f2326;-webkit-text-stroke:0.2px #1f2326;transform:scaleX(1.0500);letter-spacing:1.005px;">1m:26s</span><span class=t style="left:1629.66px;top:675px;font-size:18.50px;line-height:18.50px;color:#1f2326;-webkit-text-stroke:0.2px #1f2326;transform:scaleX(1.0500);letter-spacing:1.013px;">2m:03s</span><span class=t style="left:49.24px;top:713px;font-size:18.50px;line-height:18.50px;color:#1b5c9e;-webkit-text-stroke:0.2px #1b5c9e;transform:scaleX(1.0500);letter-spacing:0.642px;">per build configuration artifact repository l...</span><span class=t style="left:528.94px;top:713px;font-size:18.50px;line-height:18.50px;color:#1f2326;-webkit-text-stroke:0.2px #1f2326;transform:scaleX(1.0500);letter-spacing:1.017px;">3m:04s</span><span class=t style="left:628.55px;top:713px;font-size:18.50px;line-height:18.50px;color:#1f2326;-webkit-text-stroke:0.2px #1f2326;transform:scaleX(1.0500);letter-spacing:1.161px;">2.2%</span><span class=t style="left:701.14px;top:713px;font-size:18.50px;line-height:18.50px;color:#1f2326;font-weight:bold;-webkit-text-stroke:0.35px #1f2326;transform:scaleX(1.1900);">3m:04s</span><span class=t style="left:881.86px;top:713px;font-size:18.50px;line-height:18.50px;color:#1f2326;-webkit-text-stroke:0.2px #1f2326;transform:scaleX(1.0500);letter-spacing:1.190px;">10s</span><span class=t style="left:1000.71px;top:713px;font-size:18.50px;line-height:18.50px;color:#1f2326;-webkit-text-stroke:0.2px #1f2326;transform:scaleX(1.0500);letter-spacing:1.005px;">1m:40s</span><span class=t style="left:1629.71px;top:713px;font-size:18.50px;line-height:18.50px;color:#1f2326;-webkit-text-stroke:0.2px #1f2326;transform:scaleX(1.0500);letter-spacing:1.005px;">1m:15s</span><span class=t style="left:49.24px;top:751px;font-size:18.50px;line-height:18.50px;color:#1b5c9e;-webkit-text-stroke:0.2px #1b5c9e;transform:scaleX(1.0500);letter-spacing:0.642px;">per build configuration artifact repository l...</span><span class=t style="left:528.96px;top:751px;font-size:18.50px;line-height:18.50px;color:#1f2326;-webkit-text-stroke:0.2px #1f2326;transform:scaleX(1.0500);letter-spacing:1.013px;">2m:49s</span><span class=t style="left:646.14px;top:751px;font-size:18.50px;line-height:18.50px;color:#1f2326;-webkit-text-stroke:0.2px #1f2326;transform:scaleX(1.0500);letter-spacing:2.159px;">2%</span><span class=t style="left:701.14px;top:751px;font-size:18.50px;line-height:18.50px;color:#1f2326;font-weight:bold;-webkit-text-stroke:0.35px #1f2326;transform:scaleX(1.1900);">2m:49s</span><span class=t style="left:1492.71px;top:751px;font-size:18.50px;line-height:18.50px;color:#1f2326;-webkit-text-stroke:0.2px #1f2326;transform:scaleX(1.0500);letter-spacing:1.005px;">1m:15s</span><span class=t style="left:1810.71px;top:751px;font-size:18.50px;line-height:18.50px;color:#1f2326;-webkit-text-stroke:0.2px #1f2326;transform:scaleX(1.0500);letter-spacing:1.005px;">1m:19s</span><span class=t style="left:2521.86px;top:751px;font-size:18.50px;line-height:18.50px;color:#1f2326;-webkit-text-stroke:0.2px #1f2326;transform:scaleX(1.0500);letter-spacing:1.190px;">15s</span><span class=t style="left:49.24px;top:789px;font-size:18.50px;line-height:18.50px;color:#1b5c9e;-webkit-text-stroke:0.2px #1b5c9e;transform:scaleX(1.0500);letter-spacing:0.642px;">per agent artifact repository location (confl...</span><span class=t style="left:528.96px;top:789px;font-size:18.50px;line-height:18.50px;color:#1f2326;-webkit-text-stroke:0.2px #1f2326;transform:scaleX(1.0500);letter-spacing:1.013px;">2m:49s</span><span class=t style="left:646.14px;top:789px;font-size:18.50px;line-height:18.50px;color:#1f2326;-webkit-text-stroke:0.2px #1f2326;transform:scaleX(1.0500);letter-spacing:2.159px;">2%</span><span class=t style="left:701.14px;top:789px;font-size:18.50px;line-height:18.50px;color:#1f2326;font-weight:bold;-webkit-text-stroke:0.35px #1f2326;transform:scaleX(1.1900);">2m:49s</span><span class=t style="left:1000.71px;top:789px;font-size:18.50px;line-height:18.50px;color:#1f2326;-webkit-text-stroke:0.2px #1f2326;transform:scaleX(1.0500);letter-spacing:1.005px;">1m:29s</span><span class=t style="left:1527.80px;top:789px;font-size:18.50px;line-height:18.50px;color:#1f2326;-webkit-text-stroke:0.2px #1f2326;transform:scaleX(1.0500);letter-spacing:1.220px;">57s</span><span class=t style="left:2521.82px;top:789px;font-size:18.50px;line-height:18.50px;color:#1f2326;-webkit-text-stroke:0.2px #1f2326;transform:scaleX(1.0500);letter-spacing:1.212px;">23s</span>
</body></html>
